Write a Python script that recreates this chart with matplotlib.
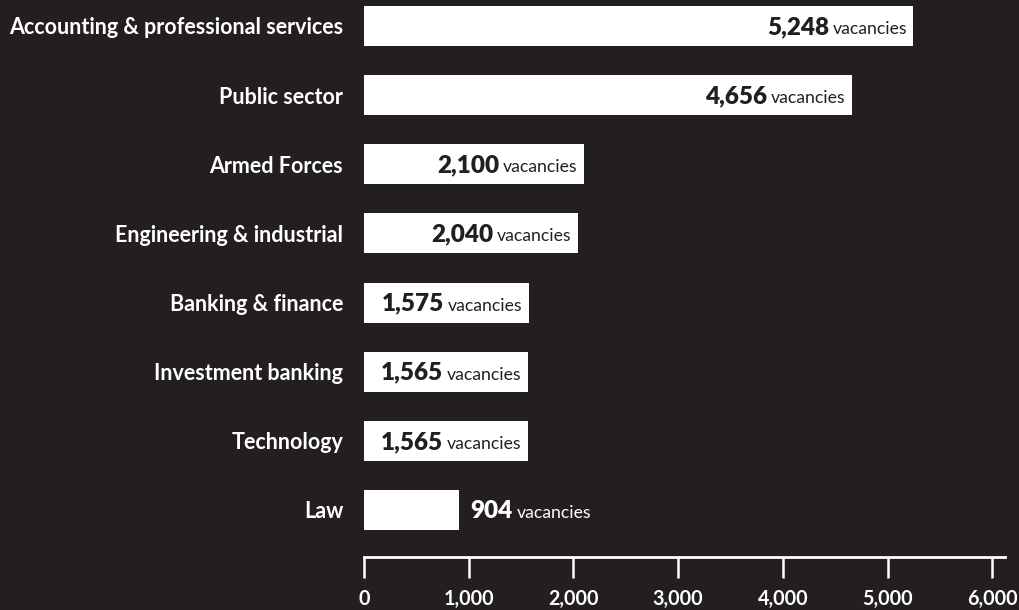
import matplotlib
matplotlib.use("Agg")
import matplotlib.pyplot as plt
import matplotlib.transforms as mtransforms

# vacancies per sector
sectors = ["Accounting & professional services", "Public sector", "Armed Forces",
           "Engineering & industrial", "Banking & finance", "Investment banking",
           "Technology", "Law"]
vacancies = [5248, 4656, 2100, 2040, 1575, 1565, 1565, 904]
ticks = [0, 1000, 2000, 3000, 4000, 5000, 6000]
tick_labels = ["0", "1,000", "2,000", "3,000", "4,000", "5,000", "6,000"]

bg = "#231f20"
font = ["Lato", "DejaVu Sans"]
plt.rcParams["font.family"] = font

fig = plt.figure(figsize=(10.2, 6.1), dpi=100, facecolor=bg)
ax = fig.add_axes([364/1020, 1 - 557/610, 641/1020, 557/610], facecolor=bg)

ypos = list(range(len(sectors)))
ax.barh(ypos, vacancies, height=0.58, color="white", zorder=2)

ax.set_xlim(0, 6122)
ax.set_ylim(7.68, -0.376)

for s in ["top", "right", "left"]:
    ax.spines[s].set_visible(False)
ax.spines["bottom"].set_color("white")
ax.spines["bottom"].set_linewidth(2)

ax.set_xticks(ticks)
ax.set_xticklabels(tick_labels, fontsize=14.2, fontweight="bold", color="white")
ax.tick_params(axis="x", direction="out", length=15, width=1.8, color="white", pad=8)

ax.set_yticks(ypos)
ax.set_yticklabels(sectors, fontsize=15.5, fontweight="bold", color="white")
ax.tick_params(axis="y", length=0, pad=15)

# number + "vacancies" share one baseline, a little below the bar centre
base = -8
renderer = fig.canvas.get_renderer()
for y, v in zip(ypos, vacancies):
    if v > 1200:
        # label sits inside the bar, right aligned
        off = mtransforms.offset_copy(ax.transData, fig=fig, x=-6, y=base, units="dots")
        word = ax.text(v, y, "vacancies", ha="right", va="baseline", fontsize=12.7,
                       color=bg, transform=off, zorder=3)
        w = word.get_window_extent(renderer).width
        off2 = mtransforms.offset_copy(ax.transData, fig=fig, x=-6 - w - 4, y=base, units="dots")
        ax.text(v, y, f"{v:,}", ha="right", va="baseline", fontsize=17.5, fontweight="heavy",
                color=bg, transform=off2, zorder=3)
    else:
        # short bar: label goes after it
        off = mtransforms.offset_copy(ax.transData, fig=fig, x=12, y=base, units="dots")
        num = ax.text(v, y, f"{v:,}", ha="left", va="baseline", fontsize=17.5, fontweight="heavy",
                      color="white", transform=off, zorder=3)
        w = num.get_window_extent(renderer).width
        off2 = mtransforms.offset_copy(ax.transData, fig=fig, x=12 + w + 4, y=base, units="dots")
        ax.text(v, y, "vacancies", ha="left", va="baseline", fontsize=12.7,
                color="white", transform=off2, zorder=3)

fig.savefig("out.png", dpi=100, facecolor=bg)
